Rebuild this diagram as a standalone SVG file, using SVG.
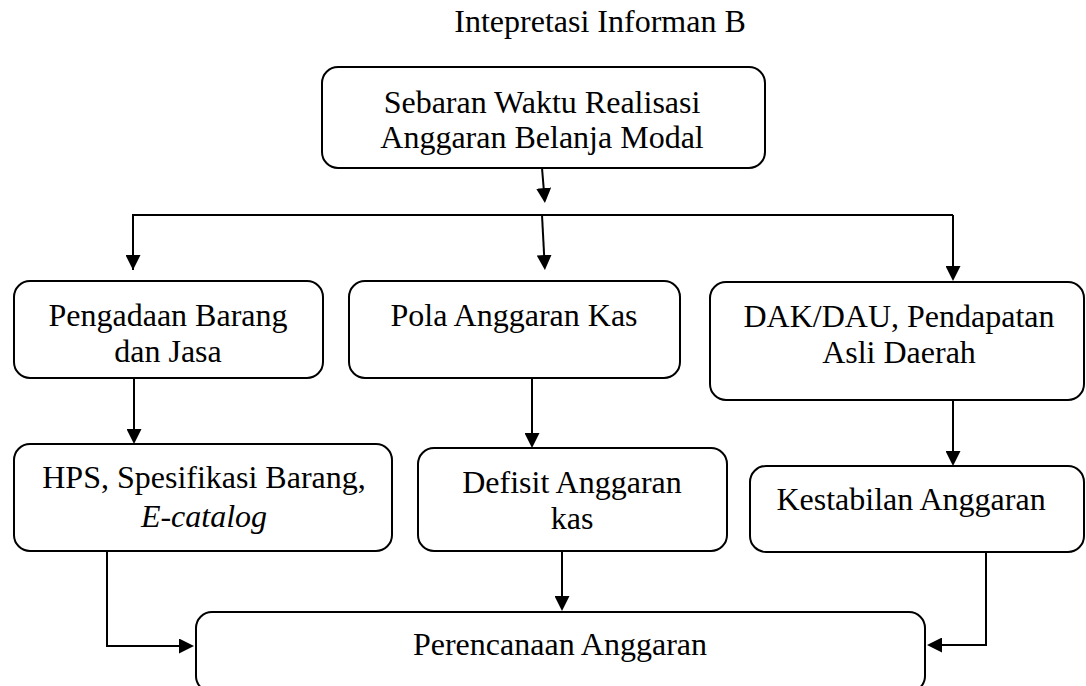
<svg xmlns="http://www.w3.org/2000/svg" width="1086" height="686" viewBox="0 0 1086 686">
<defs>
<style>
.box{fill:#fff;stroke:#000;stroke-width:2}
.t{font-size:32px;fill:#000;text-anchor:middle}
.it{font-style:italic}
.c{fill:none;stroke:#000;stroke-width:2}
</style>
<marker id="ah" viewBox="0 0 15 15" refX="11" refY="7.5" markerWidth="15" markerHeight="15" markerUnits="userSpaceOnUse" orient="auto">
<path d="M0,0 L15,7.5 L0,15 z" fill="#000"/>
</marker>
</defs>
<rect width="1086" height="686" fill="#fff"/>
<g font-family="Liberation Serif, Times New Roman, serif">
<text class="t" x="600" y="32">Intepretasi Informan B</text>

<g id="connectors">
<path class="c" d="M542,168 L544.6,199" marker-end="url(#ah)"/>
<path class="c" d="M133,270 L133,215 L953,215"/>
<path class="c" d="M133,215 L133,266" marker-end="url(#ah)"/>
<path class="c" d="M542,215 L544.7,266" marker-end="url(#ah)"/>
<path class="c" d="M953,215 L953,277" marker-end="url(#ah)"/>
<path class="c" d="M134,378 L134,440" marker-end="url(#ah)"/>
<path class="c" d="M532,378 L532,444" marker-end="url(#ah)"/>
<path class="c" d="M953,400 L953,462" marker-end="url(#ah)"/>
<path class="c" d="M107,551 L107,646 L190,646" marker-end="url(#ah)"/>
<path class="c" d="M562,551 L562,607" marker-end="url(#ah)"/>
<path class="c" d="M986,552 L986,645 L931,645" marker-end="url(#ah)"/>
</g>

<g id="node-sebaran">
<rect class="box" x="322" y="67" width="443" height="101" rx="16"/>
<text class="t" x="542" y="113">Sebaran Waktu Realisasi</text>
<text class="t" x="542" y="148">Anggaran Belanja Modal</text>
</g>

<g id="node-pengadaan">
<rect class="box" x="14" y="281" width="309" height="97" rx="16"/>
<text class="t" x="168" y="326">Pengadaan Barang</text>
<text class="t" x="168" y="362">dan Jasa</text>
</g>

<g id="node-pola">
<rect class="box" x="349" y="281" width="331" height="97" rx="16"/>
<text class="t" x="514" y="326">Pola Anggaran Kas</text>
</g>

<g id="node-dak">
<rect class="box" x="710" y="282" width="374" height="118" rx="16"/>
<text class="t" x="899" y="327">DAK/DAU, Pendapatan</text>
<text class="t" x="899" y="363">Asli Daerah</text>
</g>

<g id="node-hps">
<rect class="box" x="14" y="444" width="378" height="107" rx="16"/>
<text class="t" x="204" y="488">HPS, Spesifikasi Barang,</text>
<text class="t it" x="204" y="527">E-catalog</text>
</g>

<g id="node-defisit">
<rect class="box" x="418" y="448" width="309" height="103" rx="16"/>
<text class="t" x="572" y="493">Defisit Anggaran</text>
<text class="t" x="572" y="529">kas</text>
</g>

<g id="node-kestabilan">
<rect class="box" x="750" y="466" width="334" height="86" rx="16"/>
<text class="t" x="911" y="510">Kestabilan Anggaran</text>
</g>

<g id="node-perencanaan">
<rect class="box" x="196" y="612" width="729" height="80" rx="16"/>
<text class="t" x="560" y="655">Perencanaan Anggaran</text>
</g>
</g>
</svg>
